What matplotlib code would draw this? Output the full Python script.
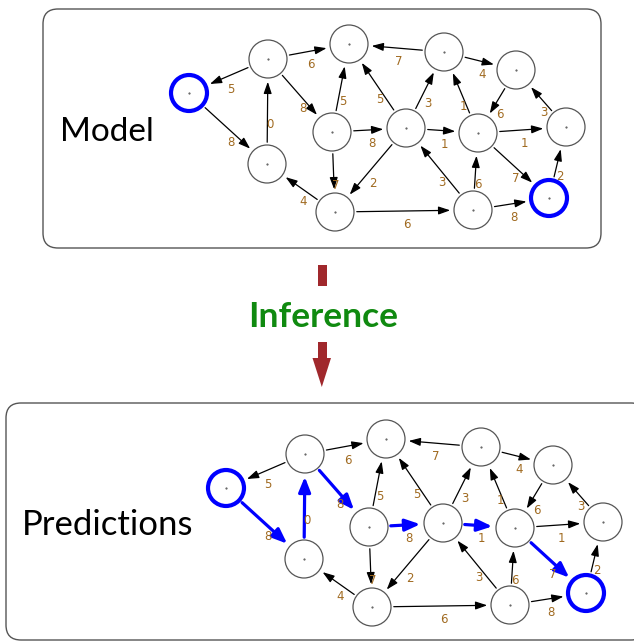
import matplotlib.pyplot as plt
import numpy as np
from matplotlib.patches import Circle, FancyArrowPatch, FancyBboxPatch, Polygon, Rectangle

# uzly grafu (pozice v pixelech horního grafu)
node_names = ["A", "B", "C", "D", "E", "F", "G", "H", "I", "J", "K", "L", "M"]
node_x = [189, 268, 349, 267, 332, 406, 335, 444, 516, 478, 566, 473, 549]
node_y = [93, 59, 44, 164, 132, 128, 212, 52, 70, 133, 127, 210, 198]

# hrany: (odkud, kam, váha)
edge_src = ["B", "A", "D", "B", "B", "E", "F", "H", "E", "E", "F", "G", "G",
            "F", "H", "I", "J", "F", "J", "K", "J", "L", "L", "L", "M"]
edge_dst = ["A", "D", "B", "C", "E", "C", "C", "C", "F", "G", "G", "D", "L",
            "H", "I", "J", "H", "J", "K", "I", "M", "F", "J", "M", "K"]
edge_w = [5, 8, 0, 6, 8, 5, 5, 7, 8, 7, 2, 4, 6,
          3, 4, 6, 1, 1, 1, 3, 7, 3, 6, 8, 2]

# začátek a konec cesty, nalezená cesta
endpoints = ["A", "M"]
path = ["A", "D", "B", "E", "F", "J", "M"]

R = 19
label_color = "#a06a20"


def draw_graph(ax, dx, dy, show_path):
    pos = {n: (x + dx, y + dy) for n, x, y in zip(node_names, node_x, node_y)}
    path_edges = set(zip(path[:-1], path[1:])) if show_path else set()

    for s, d, w in zip(edge_src, edge_dst, edge_w):
        p0 = np.array(pos[s])
        p1 = np.array(pos[d])
        u = (p1 - p0) / np.linalg.norm(p1 - p0)
        a = p0 + u * R
        b = p1 - u * (R + 1)
        if (s, d) in path_edges:
            arr = FancyArrowPatch(a, b, arrowstyle="-|>,head_length=9,head_width=3.6",
                                  mutation_scale=1, color="#0000ff", lw=2.3, zorder=2)
        else:
            arr = FancyArrowPatch(a, b, arrowstyle="-|>,head_length=7,head_width=2.4",
                                  mutation_scale=1, color="#000000", lw=0.9, zorder=2)
        ax.add_patch(arr)
        m = (p0 + p1) / 2
        ax.text(m[0] + 2.5, m[1] + 13.5, str(w), fontsize=8.5, color=label_color,
                ha="center", va="center", zorder=4)

    for n in node_names:
        x, y = pos[n]
        if n in endpoints:
            ax.add_patch(Circle((x, y), R - 1, facecolor="white", edgecolor="#0000ff",
                                lw=3.0, zorder=3))
        else:
            ax.add_patch(Circle((x, y), R, facecolor="white", edgecolor="#555555",
                                lw=0.9, zorder=3))
        ax.plot(x, y, marker="o", ms=0.5, color="#444444", zorder=4)


fig = plt.figure(figsize=(6.34, 6.42), dpi=100)
ax = fig.add_axes([0, 0, 1, 1])
ax.set_xlim(0, 634)
ax.set_ylim(642, 0)
ax.axis("off")

# rámečky
ax.add_patch(FancyBboxPatch((43, 9), 558, 239, boxstyle="round,pad=0,rounding_size=15",
                            facecolor="white", edgecolor="#555555", lw=1.0, zorder=1))
ax.add_patch(FancyBboxPatch((6, 403), 640, 237, boxstyle="round,pad=0,rounding_size=15",
                            facecolor="white", edgecolor="#555555", lw=1.0, zorder=1))

draw_graph(ax, 0, 0, False)
draw_graph(ax, 37, 395, True)

ax.text(60, 141, "Model", fontsize=24, family="Lato", ha="left", va="baseline")
ax.text(22, 535, "Predictions", fontsize=25, family="Lato", ha="left", va="baseline")
ax.text(323, 327, "Inference", fontsize=25.5, family="Lato", fontweight="bold",
        color="#108a10", ha="center", va="baseline")

# šipka
red = "#a0282c"
ax.add_patch(Rectangle((317.5, 265), 9.5, 21, color=red, lw=0))
ax.add_patch(Rectangle((317.5, 342), 9.5, 17, color=red, lw=0))
ax.add_patch(Polygon([(312.5, 358), (331, 358), (321.8, 387)], closed=True, color=red, lw=0))

plt.savefig("out.png", dpi=100)
